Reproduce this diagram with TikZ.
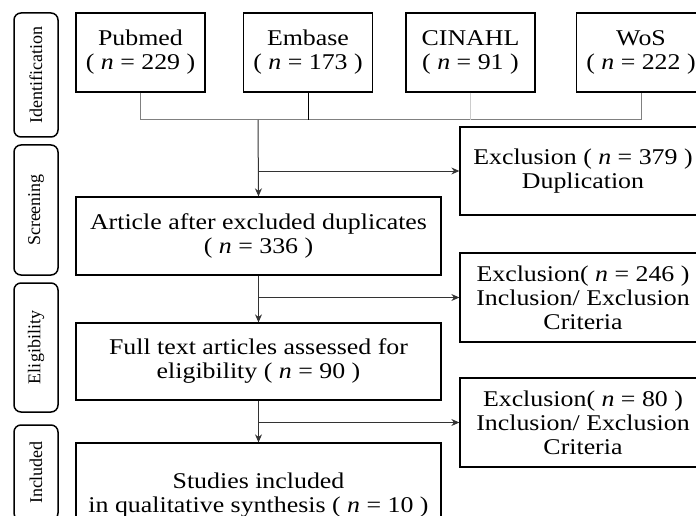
\documentclass[tikz,border=0pt]{standalone}
\usepackage{fontspec}
\setmainfont{Liberation Serif}[FakeStretch=1.15]
\newfontfamily\sidefont{Liberation Serif}
\usetikzlibrary{arrows.meta}

\tikzset{
  boxtext/.style={font=\fontsize{22.5}{24}\selectfont},
  dbbox/.style={boxtext, draw, line width=1.3pt, minimum width=129pt, minimum height=79pt, align=center, inner sep=0pt},
  flowbox/.style={boxtext, draw, line width=1.3pt, minimum width=365pt, align=center, inner sep=0pt},
  exclbox/.style={boxtext, draw, line width=1.3pt, minimum width=246pt, minimum height=89pt, align=center, inner sep=0pt},
  stagebox/.style={draw, rounded corners=7pt, line width=1.5pt, minimum height=44pt, inner sep=0pt, rotate=90, font=\sidefont\fontsize{18}{18}\selectfont},
  feed/.style={gray, line width=1pt},
  flow/.style={black!80, line width=1pt, -{Stealth[length=8pt,width=7pt]}},
}

\begin{document}
\begin{tikzpicture}[x=1pt, y=-1pt]
    \useasboundingbox (0, 0) rectangle (696, 516);
    \clip (0, 0) rectangle (696, 516);

    % stages
    \node [stagebox, minimum width=124pt] (ident) at (36, 75) {Identification};
    \node [stagebox, minimum width=130pt] (screen) at (36, 210) {Screening};
    \node [stagebox, minimum width=129pt] (elig) at (36, 347.5) {Eligibility};
    \node [stagebox, minimum width=95pt] (incl) at (36, 472.5) {Included};

    % databases
    \node [dbbox] (pubmed) at (140.5, 52.5) {Pubmed\\( \textit{n} = 229 )};
    \node [dbbox] (embase) at (308, 52.5) {Embase\\( \textit{n} = 173 )};
    \node [dbbox] (cinahl) at (470.5, 52.5) {CINAHL\\( \textit{n} = 91 )};
    \node [dbbox] (wos) at (641, 52.5) {WoS\\( \textit{n} = 222 )};

    % main flow
    \node [flowbox, minimum height=78pt] (article) at (258.5, 236) {Article after excluded duplicates\\( \textit{n} = 336 )};
    \node [flowbox, minimum height=77pt] (fulltext) at (258.5, 361.5) {Full text articles assessed for\\eligibility ( \textit{n} = 90 )};
    \node [flowbox, minimum height=104pt] (studies) at (258.5, 495) {Studies included\\in qualitative synthesis ( \textit{n} = 10 )};

    % exclusions
    \node [exclbox, minimum height=88pt] (excl1) at (583, 171) {Exclusion ( \textit{n} = 379 )\\Duplication};
    \node [exclbox] (excl2) at (583, 297.5) {Exclusion( \textit{n} = 246 )\\Inclusion/ Exclusion\\Criteria};
    \node [exclbox] (excl3) at (583, 422.5) {Exclusion( \textit{n} = 80 )\\Inclusion/ Exclusion\\Criteria};

    \coordinate (merge) at (258, 120);

    \draw [feed] (pubmed.south) |- (wos.south |- merge) -- (wos.south);
    \draw [feed, black] (embase.south) -- (embase.south |- merge);
    \draw [feed, black!20] (cinahl.south) -- (cinahl.south |- merge);

    \draw [flow] (merge) -- (article.north);
    \draw [flow] (excl1.west -| merge) -- (excl1.west);
    \draw [flow] (article.south) -- (fulltext.north);
    \draw [flow] (excl2.west -| article.south) -- (excl2.west);
    \draw [flow] (fulltext.south) -- (studies.north);
    \draw [flow] (excl3.west -| fulltext.south) -- (excl3.west);
\end{tikzpicture}
\end{document}
